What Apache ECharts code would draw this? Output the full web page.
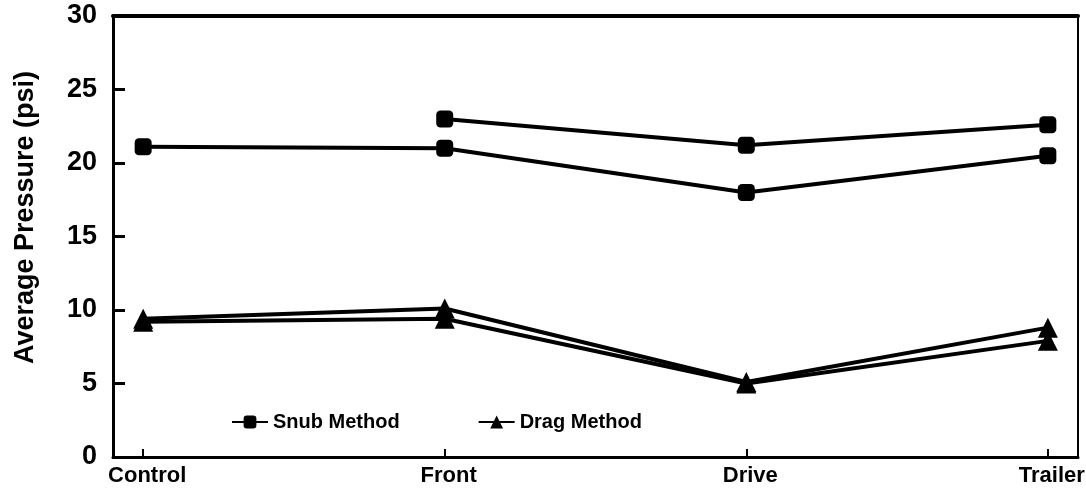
<!DOCTYPE html>
<html>
<head>
<meta charset="utf-8">
<script src="https://cdn.jsdelivr.net/npm/echarts@6/dist/echarts.min.js"></script>
<style>
  html, body { margin: 0; padding: 0; background: #fff; }
  #chart { width: 1086px; height: 496px; }
</style>
</head>
<body>
<div id="chart"></div>
<script>
// Tire positions along the x axis
const categories = ['Control', 'Front', 'Drive', 'Trailer'];

// Average pressure (psi) per position; null = not measured
const snubUpper = [null, 23.0, 21.2, 22.6];
const snubLower = [21.1, 21.0, 18.0, 20.5];
const dragUpper = [9.4, 10.1, 5.1, 8.8];
const dragLower = [9.2, 9.4, 5.0, 7.9];

const yTicks = [0, 5, 10, 15, 20, 25, 30];
const categoryIndex = categories.map((_, i) => i);

const FONT = '"Liberation Sans", Arial, sans-serif';

function toPoints(values) {
  return values.map((v, i) => [i, v]);
}

function lineSeries(name, values, symbol, symbolSize) {
  return {
    name: name,
    type: 'line',
    data: toPoints(values),
    symbol: symbol,
    symbolSize: symbolSize,
    connectNulls: false,
    lineStyle: { color: '#000', width: 4 },
    itemStyle: { color: '#000' },
    emphasis: { disabled: true },
    animation: false
  };
}

const chart = echarts.init(document.getElementById('chart'));
chart.setOption({
  backgroundColor: '#fff',
  animation: false,
  grid: {
    left: 113, right: 8, top: 16, bottom: 39,
    outerBoundsMode: 'none',
    containLabel: false,
    show: true, borderColor: '#000', borderWidth: 2, backgroundColor: 'transparent'
  },
  legend: {
    left: 226, top: 407,
    itemWidth: 36, itemHeight: 16, itemGap: 78,
    data: ['Snub Method', 'Drag Method'],
    textStyle: { fontFamily: FONT, fontWeight: 'bold', fontSize: 20, color: '#000' },
    selectedMode: false
  },
  xAxis: [{
    type: 'value',
    min: -0.1, max: 3.1,
    axisLine: { show: true, onZero: false, lineStyle: { color: '#000', width: 3 } },
    axisTick: { show: true, inside: true, length: 8, customValues: categoryIndex, lineStyle: { color: '#000', width: 2 } },
    axisLabel: {
      customValues: categoryIndex,
      formatter: v => categories[Math.round(v)],
      fontFamily: FONT, fontWeight: 'bold', fontSize: 22, color: '#000', margin: 8,
      padding: [0, 0, 0, 8],
      hideOverlap: false
    },
    splitLine: { show: false }
  }, {
    type: 'value', position: 'top',
    min: -0.1, max: 3.1,
    axisLine: { show: true, onZero: false, lineStyle: { color: '#000', width: 4 } },
    axisTick: { show: false }, axisLabel: { show: false }, splitLine: { show: false }
  }],
  yAxis: {
    type: 'value',
    min: yTicks[0], max: yTicks[yTicks.length - 1], interval: 5,
    name: 'Average Pressure (psi)',
    nameLocation: 'middle',
    nameGap: 74,
    nameTextStyle: { fontFamily: FONT, fontWeight: 'bold', fontSize: 27, color: '#000', padding: [0, 0, 0, 38] },
    axisLine: { show: true, onZero: false, lineStyle: { color: '#000', width: 3 } },
    axisTick: { show: true, inside: true, length: 12, lineStyle: { color: '#000', width: 3 } },
    axisLabel: { fontFamily: FONT, fontWeight: 'bold', fontSize: 27, color: '#000', margin: 16 },
    splitLine: { show: false }
  },
  series: [
    lineSeries('Snub Method', snubUpper, 'roundRect', 17),
    lineSeries('Snub Method', snubLower, 'roundRect', 17),
    lineSeries('Drag Method', dragUpper, 'triangle', [20, 20]),
    lineSeries('Drag Method', dragLower, 'triangle', [20, 20])
  ]
});
</script>
</body>
</html>
